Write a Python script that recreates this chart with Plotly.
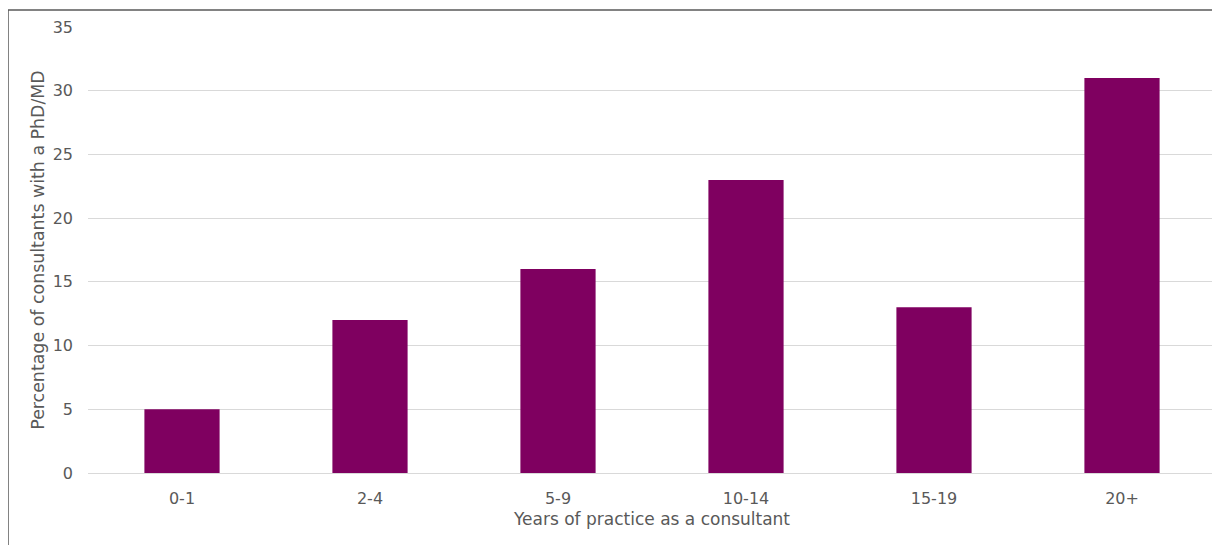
import plotly.graph_objects as go

categories = ["0-1", "2-4", "5-9", "10-14", "15-19", "20+"]
values = [5, 12, 16, 23, 13, 31]
y_ticks = [0, 5, 10, 15, 20, 25, 30, 35]

# page body has an 8px margin, so the figure is offset by 8px
W, H = 1212, 537
L, R, T, B = 80, 4, 19, 72
pw = W - L - R
ph = H - T - B

fig = go.Figure(go.Bar(x=categories, y=values, marker=dict(color="#7f0060", line=dict(width=0)),
                       width=0.4))

font_family = "DejaVu Sans, Verdana, sans-serif"
fig.update_layout(
    width=W, height=H,
    margin=dict(l=L, r=R, t=T, b=B),
    paper_bgcolor="white", plot_bgcolor="white",
    showlegend=False,
    font=dict(family=font_family, size=16, color="#595959"),
    xaxis=dict(
        title=dict(text="Years of practice as a consultant", font=dict(size=17, color="#595959"), standoff=6),
        showgrid=False, showline=False, ticks="", zeroline=False,
        tickfont=dict(size=16, color="#595959"), ticklabelstandoff=14,
    ),
    yaxis=dict(
        title=dict(text="Percentage of consultants with a PhD/MD", font=dict(size=17.4, color="#595959"), standoff=3),
        range=[0, 35], tickvals=y_ticks, showgrid=True, gridcolor="#d9d9d9", gridwidth=1,
        zeroline=True, zerolinecolor="#d9d9d9", zerolinewidth=1, showline=False, ticks="",
        tickfont=dict(size=16, color="#595959"), ticklabelstandoff=14,
    ),
)

fig.add_shape(type="rect", xref="paper", yref="paper",
              x0=(0 - L) / pw, x1=1.05, y0=-0.3, y1=(H - B - 2) / ph,
              line=dict(color="#595959", width=1.5), fillcolor="rgba(0,0,0,0)", layer="below")

fig.write_html("out.html")
